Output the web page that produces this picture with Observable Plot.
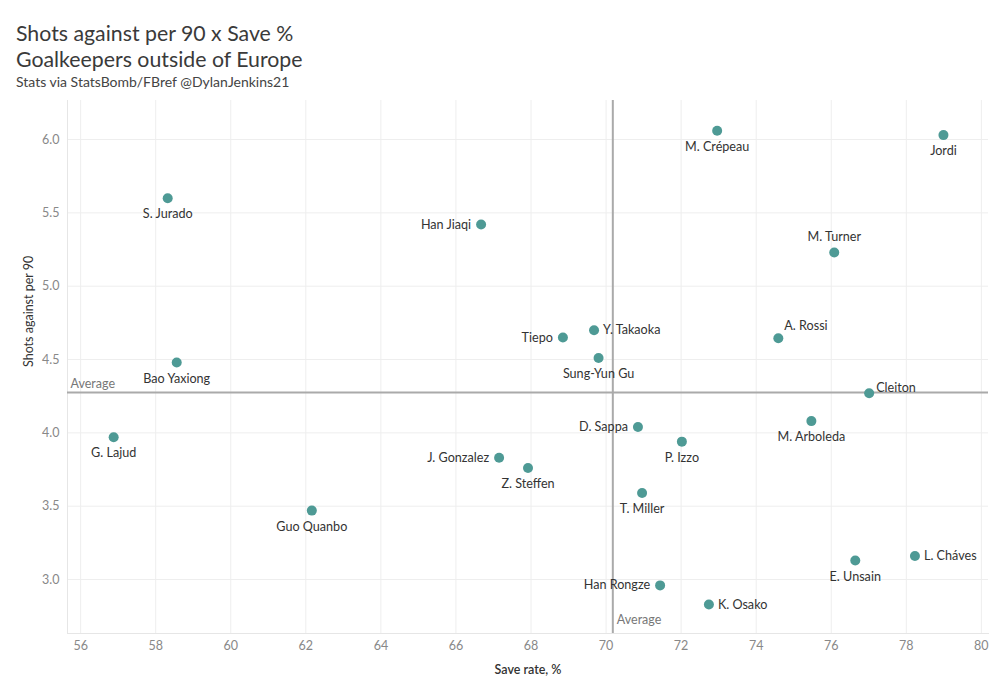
<!DOCTYPE html>
<html>
<head>
<meta charset="utf-8">
<script src="https://cdn.jsdelivr.net/npm/d3@7"></script>
<script src="https://cdn.jsdelivr.net/npm/@observablehq/plot@0.6"></script>
<style>
  body { margin: 0; background: #fff; font-family: Lato, "Noto Sans", sans-serif; }
  #head { height: 95px; box-sizing: border-box; padding: 20px 0 0 16px; color: #3a3a3a; }
  #head .t { font-size: 21.3px; line-height: 26px; }
  #head .s { font-size: 14px; line-height: 18px; margin-top: 1px; color: #444; }
</style>
</head>
<body>
<div id="head">
  <div class="t">Shots against per 90 x Save %</div>
  <div class="t">Goalkeepers outside of Europe</div>
  <div class="s">Stats via StatsBomb/FBref @DylanJenkins21</div>
</div>
<div id="chart"></div>
<script>
const players = ["Jordi","M. Crépeau","S. Jurado","Han Jiaqi","M. Turner","Tiepo","Y. Takaoka","Sung-Yun Gu","A. Rossi","Bao Yaxiong","Cleiton","M. Arboleda","D. Sappa","P. Izzo","Z. Steffen","T. Miller","G. Lajud","J. Gonzalez","Guo Quanbo","L. Cháves","E. Unsain","Han Rongze","K. Osako"];
const saveRate = [78.99,72.96,58.32,66.67,76.08,68.85,69.68,69.80,74.59,58.56,77.01,75.47,70.85,72.02,67.92,70.96,56.88,67.15,62.16,78.23,76.64,71.44,72.74];
const shotsAgainst = [6.03,6.06,5.60,5.42,5.23,4.65,4.70,4.51,4.645,4.48,4.27,4.08,4.04,3.94,3.76,3.59,3.97,3.83,3.47,3.16,3.13,2.96,2.83];
const avgSaveRate = 70.18;
const avgShots = 4.275;
const xTicks = [56,58,60,62,64,66,68,70,72,74,76,78,80];
const yTicks = [3.0,3.5,4.0,4.5,5.0,5.5,6.0];

// label placement relative to each point (layout only)
const labelPlacement = {
  "Han Jiaqi":"left","Tiepo":"left","D. Sappa":"left","J. Gonzalez":"left","Han Rongze":"left",
  "Y. Takaoka":"right","L. Cháves":"right","K. Osako":"right",
  "M. Turner":"above","A. Rossi":"aboveRight","Cleiton":"upRight"
};

const data = players.map((name, i) => ({name, x: saveRate[i], y: shotsAgainst[i], pos: labelPlacement[name] || "below"}));
const sel = p => data.filter(d => d.pos === p);
const teal = "#4e9a95";
const lbl = {x: "x", y: "y", text: "name", fill: "#333", fontSize: 12.6};

const plot = Plot.plot({
  width: 1000,
  height: 605,
  marginTop: 5,
  marginBottom: 67,
  marginLeft: 67,
  marginRight: 12,
  style: {fontFamily: "Lato, 'Noto Sans', sans-serif", fontSize: "12px", background: "#fff"},
  x: {domain: [55.65, 80.19], ticks: xTicks, tickFormat: d => d, label: "Save rate, %", labelAnchor: "center", labelOffset: 42, tickSize: 0, tickPadding: 8},
  y: {domain: [2.632, 6.266], ticks: yTicks, tickFormat: d3.format(".1f"), label: "Shots against per 90", labelAnchor: "center", labelArrow: "none", labelOffset: 40, tickSize: 0, tickPadding: 8},
  marks: [
    Plot.gridX(xTicks, {stroke: "#eee", strokeOpacity: 1}),
    Plot.gridY(yTicks, {stroke: "#eee", strokeOpacity: 1}),
    Plot.frame({anchor: "left", stroke: "#e6e6e6"}),
    Plot.frame({anchor: "bottom", stroke: "#e6e6e6"}),
    Plot.axisX({ticks: xTicks, tickSize: 0, tickPadding: 8, fill: "#888", fontSize: 12.5, label: null}),
    Plot.axisY({ticks: yTicks, tickSize: 0, tickPadding: 8, fill: "#888", fontSize: 12.5, tickFormat: d3.format(".1f"), label: null}),
    Plot.ruleX([avgSaveRate], {stroke: "#aaa", strokeWidth: 2}),
    Plot.ruleY([avgShots], {stroke: "#aaa", strokeWidth: 2}),
    Plot.text(["Average"], {frameAnchor: "left", y: avgShots, dx: 3, dy: -9, textAnchor: "start", fill: "#777", fontSize: 12.5}),
    Plot.text(["Average"], {x: avgSaveRate, frameAnchor: "bottom", dx: 4, dy: -10, textAnchor: "start", fill: "#777", fontSize: 12.5}),
    Plot.dot(data, {x: "x", y: "y", r: 5, fill: teal, stroke: "none"}),
    Plot.text(sel("below"), {...lbl, dy: 16}),
    Plot.text(sel("left"), {...lbl, dx: -10, textAnchor: "end"}),
    Plot.text(sel("right"), {...lbl, dx: 9, textAnchor: "start"}),
    Plot.text(sel("above"), {...lbl, dy: -15}),
    Plot.text(sel("aboveRight"), {...lbl, dx: 6, dy: -12, textAnchor: "start"}),
    Plot.text(sel("upRight"), {...lbl, dx: 7, dy: -5, textAnchor: "start"}),
    Plot.text(["Save rate, %"], {frameAnchor: "bottom", dy: 40, fill: "#333", fontSize: 12.5, fontWeight: 600}),
    Plot.text(["Shots against per 90"], {frameAnchor: "left", dx: -39, rotate: -90, fill: "#333", fontSize: 12.5})
  ]
});
document.getElementById("chart").appendChild(plot);
</script>
</body>
</html>
